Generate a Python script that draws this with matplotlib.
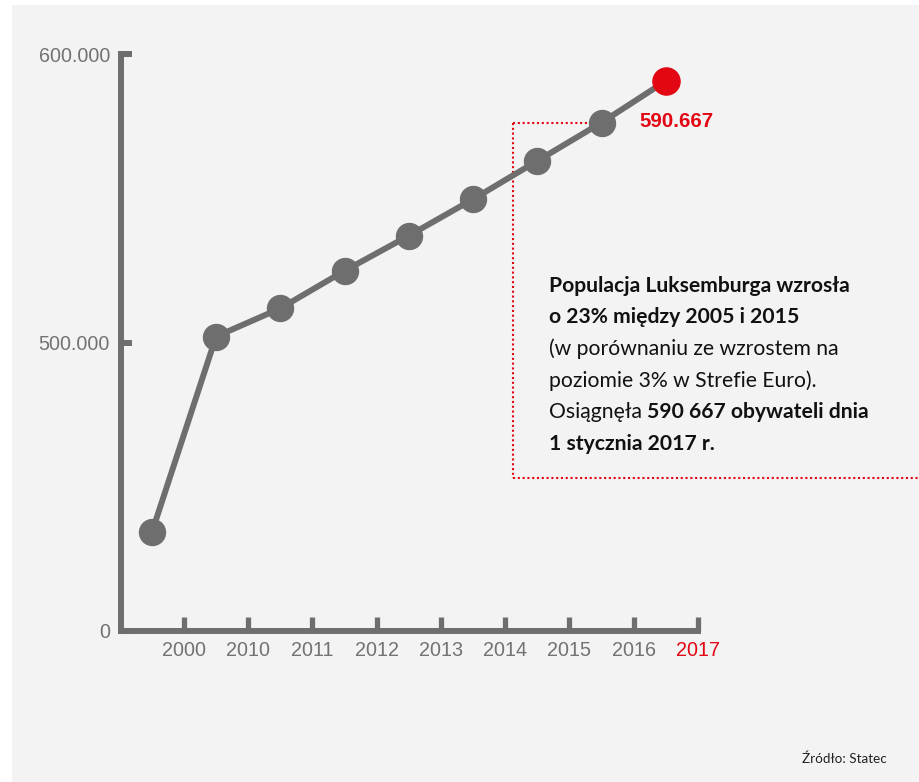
import numpy as np
import matplotlib
matplotlib.use('Agg')
import matplotlib.pyplot as plt
from matplotlib.patches import Rectangle

plt.rcParams['font.family'] = ['Liberation Sans', 'DejaVu Sans']

# data
years = ['2000', '2010', '2011', '2012', '2013', '2014', '2015', '2016', '2017']
population = [439539, 502066, 511840, 524853, 537039, 549680, 562958, 576249, 590667]
ytick_vals = [0, 500000, 600000]
ytick_labels = ['0', '500.000', '600.000']
last_label = '590.667'

note_lines = [
    [('Populacja Luksemburga wzrosła', 'bold')],
    [('o 23% między 2005 i 2015', 'bold')],
    [('(w porównaniu ze wzrostem na', 'normal')],
    [('poziomie 3% w Strefie Euro).', 'normal')],
    [('Osiągnęła ', 'normal'), ('590 667 obywateli dnia', 'bold')],
    [('1 stycznia 2017 r.', 'bold')],
]
source = 'Źródło: Statec'

GRAY = '#6e6e6e'
RED = '#e30613'
BG = '#f3f3f3'

W, H = 920, 782
fig = plt.figure(figsize=(W / 100, H / 100), dpi=100, facecolor='white')
fig.add_artist(Rectangle((12 / W, 0), 1 - 12 / W, (H - 5) / H,
                         transform=fig.transFigure, facecolor=BG, edgecolor='none', zorder=0))

ax = fig.add_axes([121 / W, (H - 631) / H, (698 - 121) / W, (631 - 54) / H])
ax.set_facecolor('none')

# broken value axis: the lower part is squeezed
brk_v = [0, 410000, 500000, 600000]
brk_s = [0, 0.02, 1, 2]
fwd = lambda v: np.interp(v, brk_v, brk_s)
inv = lambda s: np.interp(s, brk_s, brk_v)
ax.set_yscale('function', functions=(fwd, inv))

x_ticks = np.arange(len(years))
x_pts = x_ticks - 0.5

ax.plot(x_pts, population, color=GRAY, lw=4.3, marker='o', ms=18.7,
        mfc=GRAY, mec=GRAY, zorder=3, clip_on=False, solid_capstyle='round')
ax.plot(x_pts[-1], population[-1], marker='o', ms=19.5, mfc=RED, mec=RED,
        zorder=4, clip_on=False)

ax.set_xlim(-0.98, 8.0)
ax.set_ylim(0, 600000)

for s in ['top', 'right']:
    ax.spines[s].set_visible(False)
for s in ['left', 'bottom']:
    ax.spines[s].set_linewidth(4.3)
    ax.spines[s].set_color(GRAY)
    ax.spines[s].set_capstyle('projecting')

ax.set_xticks(x_ticks)
ax.set_xticklabels(years)
ax.set_yticks(ytick_vals)
ax.set_yticklabels(ytick_labels)
ax.tick_params(axis='x', direction='in', length=10, width=3.8, color=GRAY,
               pad=7, labelsize=14.2, labelcolor='#727272')
ax.tick_params(axis='y', direction='in', length=8, width=4.3, color=GRAY,
               pad=8, labelsize=14.2, labelcolor='#727272')
ax.get_xticklabels()[-1].set_color(RED)

ax.annotate(last_label, (x_pts[-1], population[-1]), xytext=(-19, -33),
            textcoords='offset points', ha='left', va='baseline', color=RED,
            fontsize=14.8, fontweight='bold')

# dotted call-out frame
box_left = 5.12
box_bottom = 0.265
dot = dict(color=RED, lw=1.5, ls=(0, (1, 1.3)), clip_on=False, zorder=2)
ax.plot([box_left, x_pts[7]], [population[7]] * 2, **dot)
top_ax = fwd(population[7]) / 2
ax.plot([box_left, box_left], [top_ax, box_bottom], transform=ax.get_xaxis_transform(), **dot)
ax.plot([box_left, 12], [box_bottom] * 2, transform=ax.get_xaxis_transform(), **dot)

# note text
tx, ty0, step = 549 / W, 1 - 291.7 / H, 31.7 / H
for i, parts in enumerate(note_lines):
    prev = None
    for txt, wt in parts:
        if prev is None:
            prev = fig.text(tx, ty0 - i * step, txt, fontsize=15.2, fontweight=wt,
                            family='Lato', color='#111111', va='baseline')
        else:
            prev = fig.text(0, 0, txt, fontsize=15.2, fontweight=wt, family='Lato',
                            color='#111111', va='baseline')
            fig.canvas.draw()
            bb = first.get_window_extent()
            prev.set_position((bb.x1 / W, ty0 - i * step))
        first = prev

fig.text(887 / W, 1 - 762.7 / H, source, fontsize=9.7, family='Lato',
         color='#222222', ha='right', va='baseline')

fig.savefig('out.png', dpi=100, facecolor='white')
